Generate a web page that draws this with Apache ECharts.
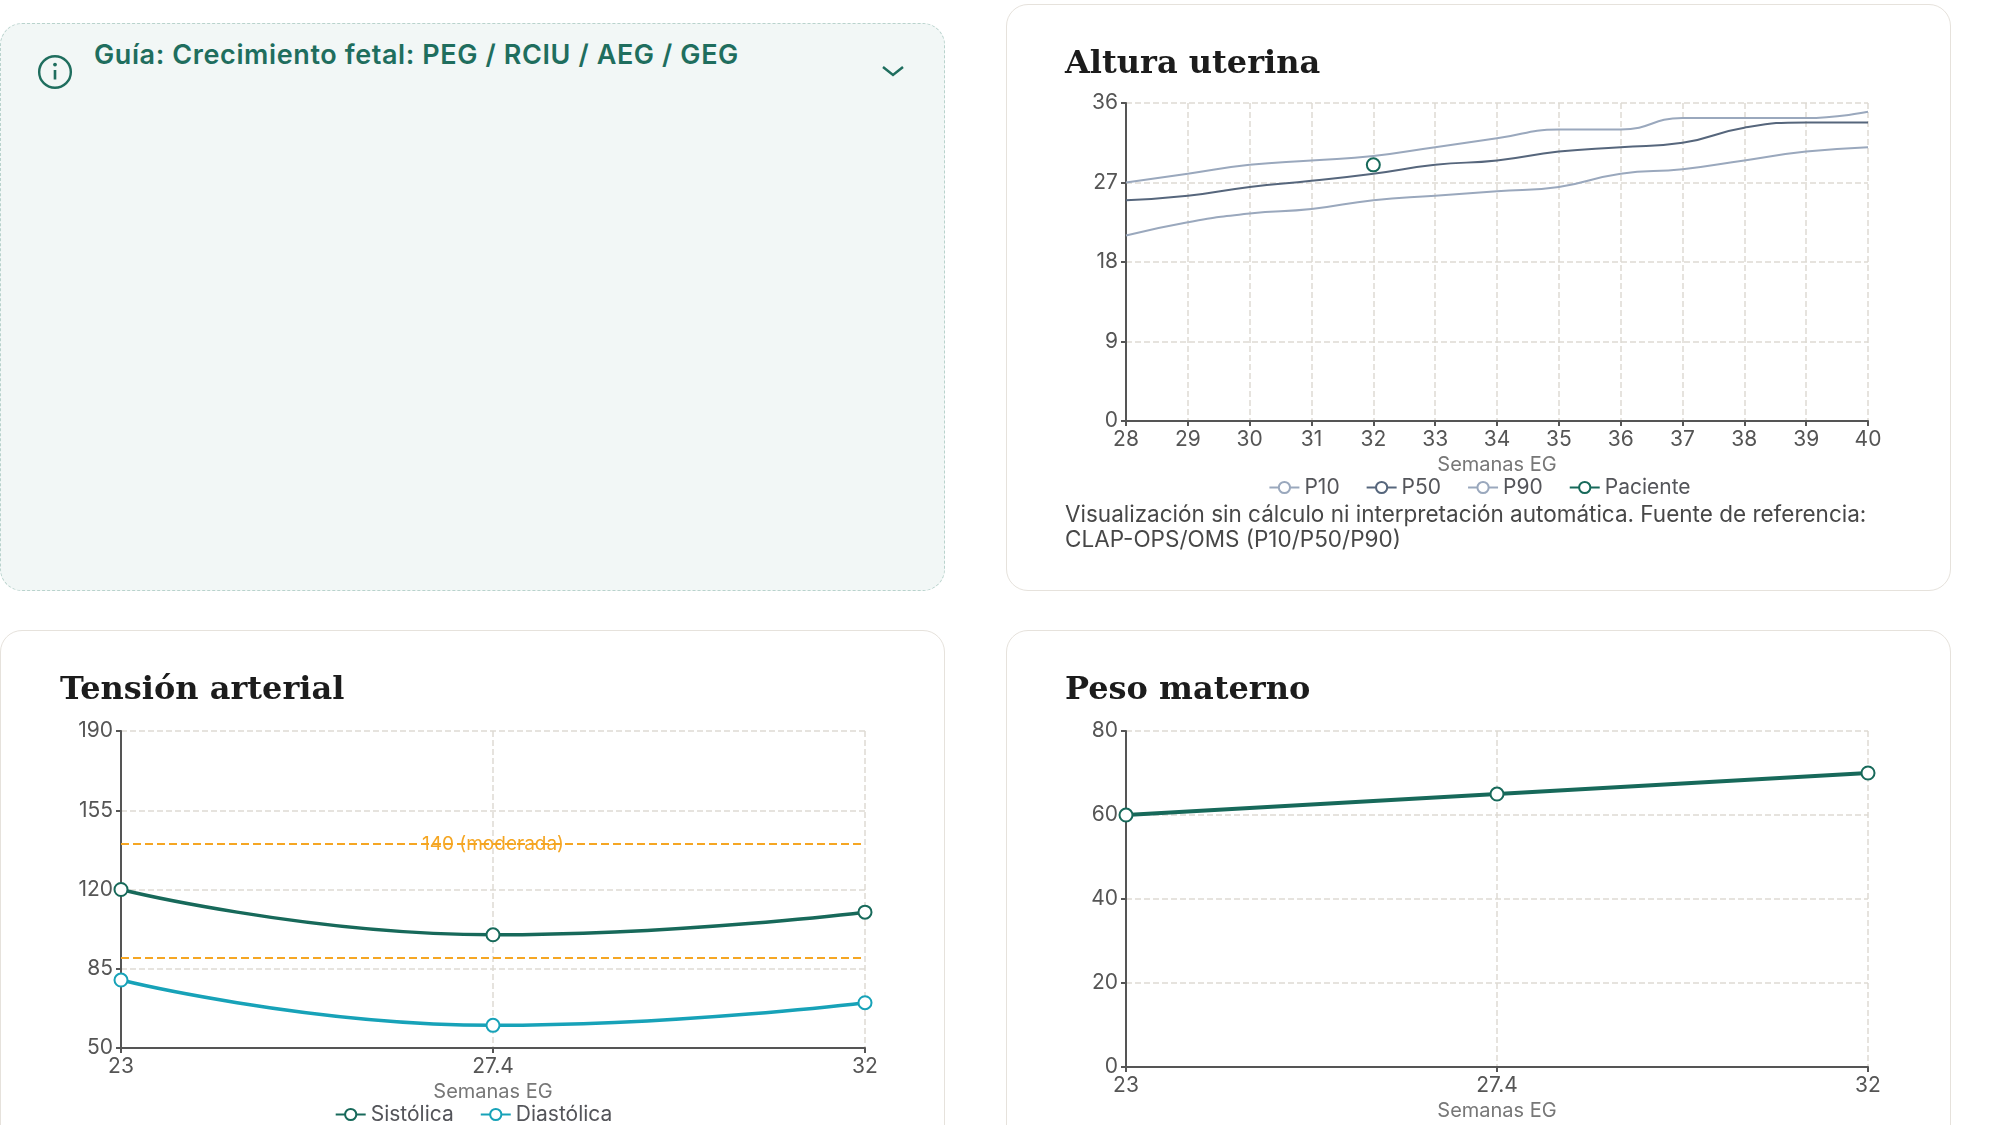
<!DOCTYPE html>
<html>
<head>
<meta charset="utf-8">
<script src="https://cdn.jsdelivr.net/npm/echarts@6/dist/echarts.min.js"></script>
<style>
  body { margin: 0; width: 2000px; height: 1125px; overflow: hidden; background: #fff; font-family: Inter, sans-serif; position: relative; }
  .card { position: absolute; background: #fff; border: 1.5px solid #e6e2dc; border-radius: 22px; box-sizing: border-box; overflow: hidden; }
  .guide { background: #f2f7f6; border: 1.5px dashed #b9d3cd; }
  .title { position: absolute; font-family: "DejaVu Serif", serif; font-weight: bold; font-size: 32px; color: #1c1c1c; z-index: 2; }
  .chart { position: absolute; left: 0; top: 0; }
  .note { position: absolute; left: 58px; top: 496px; width: 815px; font-size: 22.5px; line-height: 25px; color: #474747; }
</style>
</head>
<body>
<div class="card guide" style="left:0;top:23px;width:945px;height:568px;">
  <svg style="position:absolute;left:35px;top:29px" width="38" height="38" viewBox="0 0 36 36">
    <circle cx="18" cy="18" r="15" fill="none" stroke="#1f6e5e" stroke-width="2.3"/>
    <line x1="18" y1="16" x2="18" y2="25" stroke="#1f6e5e" stroke-width="2.5"/>
    <circle cx="18" cy="11" r="1.8" fill="#1f6e5e"/>
  </svg>
  <div style="position:absolute;left:93px;top:15px;width:720px;font-size:27px;line-height:31px;font-weight:600;color:#1f6e5e;letter-spacing:0.6px;">Guía: Crecimiento fetal: PEG / RCIU / AEG / GEG</div>
  <svg style="position:absolute;left:878px;top:38px" width="28" height="18" viewBox="0 0 28 18">
    <polyline points="4,5 14,13 24,5" fill="none" stroke="#1f6e5e" stroke-width="2.5"/>
  </svg>
</div>

<div class="card" style="left:1006px;top:4px;width:945px;height:587px;">
  <div class="title" style="left:58px;top:38px;">Altura uterina</div>
  <div id="altura" class="chart" style="width:945px;height:500px;"></div>
  <div class="note">Visualización sin cálculo ni interpretación automática. Fuente de referencia: CLAP-OPS/OMS (P10/P50/P90)</div>
</div>

<div class="card" style="left:0;top:630px;width:945px;height:530px;">
  <div class="title" style="left:59px;top:38px;">Tensión arterial</div>
  <div id="tension" class="chart" style="width:945px;height:495px;"></div>
</div>

<div class="card" style="left:1006px;top:630px;width:945px;height:530px;">
  <div class="title" style="left:58px;top:38px;">Peso materno</div>
  <div id="peso" class="chart" style="width:945px;height:495px;"></div>
</div>

<script>
// datos
var semanasAU = [28, 29, 30, 31, 32, 33, 34, 35, 36, 37, 38, 39, 40];
var p10 = [21, 22.5, 23.5, 24, 25, 25.5, 26, 26.5, 28, 28.5, 29.5, 30.5, 31];
var p50 = [25, 25.5, 26.5, 27.2, 28, 29, 29.5, 30.5, 31, 31.5, 33.2, 33.8, 33.8];
var p90 = [27, 28, 29, 29.5, 30, 31, 32, 33, 33, 34.3, 34.3, 34.3, 35];
var paciente = [[32, 29]];

var semanasTA = ['23', '27.4', '32'];
var sistolica = [120, 100, 110];
var diastolica = [80, 60, 70];
var umbrales = [140, 90];

var semanasPeso = ['23', '27.4', '32'];
var peso = [60, 65, 70];

var labelStyle = { color: '#555', fontSize: 21, fontFamily: 'Inter' };
var axisLine = { lineStyle: { color: '#555', width: 2 } };
var tick = { show: true, lineStyle: { color: '#555', width: 2 } };
var splitLine = { show: true, lineStyle: { color: '#dedad3', type: 'dashed', width: 1.5 } };
var nameStyle = { color: '#777', fontSize: 20, fontFamily: 'Inter' };
var legendText = { fontSize: 21, fontFamily: 'Inter' };

function zip(xs, ys) { return xs.map(function (x, i) { return [x, ys[i]]; }); }

var altura = echarts.init(document.getElementById('altura'));
altura.setOption({
  animation: false,
  grid: { left: 119, right: 84, top: 98, bottom: 84 },
  legend: { top: 467, left: 'center', itemGap: 26, itemWidth: 30, textStyle: legendText,
    data: ['P10', 'P50', 'P90', 'Paciente'] },
  xAxis: { type: 'value', min: 28, max: 40, interval: 1, name: 'Semanas EG', nameLocation: 'middle', nameGap: 33,
    nameTextStyle: nameStyle, axisLabel: labelStyle, axisLine: axisLine, axisTick: tick, splitLine: splitLine },
  yAxis: { type: 'value', min: 0, max: 36, interval: 9, axisLabel: labelStyle, axisLine: { show: true, lineStyle: { color: '#555', width: 2 } },
    axisTick: tick, splitLine: splitLine },
  series: [
    { name: 'P10', type: 'line', smooth: true, showSymbol: false, data: zip(semanasAU, p10), color: '#9aa8bd', lineStyle: { width: 2 } },
    { name: 'P50', type: 'line', smooth: true, showSymbol: false, data: zip(semanasAU, p50), color: '#56667c', lineStyle: { width: 2 } },
    { name: 'P90', type: 'line', smooth: true, showSymbol: false, data: zip(semanasAU, p90), color: '#9aa8bd', lineStyle: { width: 2 } },
    { name: 'Paciente', type: 'line', data: paciente, color: '#17695a', symbol: 'emptyCircle', symbolSize: 13,
      itemStyle: { borderWidth: 4 }, lineStyle: { width: 3 } }
  ]
});

var tension = echarts.init(document.getElementById('tension'));
tension.setOption({
  animation: false,
  grid: { left: 120, right: 81, top: 100, bottom: 78 },
  legend: { top: 468, left: 'center', itemGap: 26, itemWidth: 30, textStyle: legendText, data: ['Sistólica', 'Diastólica'] },
  xAxis: { type: 'category', boundaryGap: false, data: semanasTA, name: 'Semanas EG', nameLocation: 'middle', nameGap: 33,
    nameTextStyle: nameStyle, axisLabel: labelStyle, axisLine: axisLine, axisTick: tick, splitLine: splitLine },
  yAxis: { type: 'value', min: 50, max: 190, interval: 35, axisLabel: labelStyle, axisLine: { show: true, lineStyle: { color: '#555', width: 2 } },
    axisTick: tick, splitLine: splitLine },
  series: [
    { name: 'Sistólica', type: 'line', smooth: true, data: sistolica, color: '#17695a', symbol: 'emptyCircle', symbolSize: 13,
      itemStyle: { borderWidth: 3.5 }, lineStyle: { width: 3.5 },
      markLine: { symbol: 'none', silent: true, lineStyle: { color: '#f5a623', type: 'dashed', width: 2 },
        data: [
          { yAxis: umbrales[0], label: { show: true, position: 'middle', formatter: '140 (moderada)', color: '#f5a623', fontSize: 19, fontFamily: 'Inter', distance: -10 } },
          { yAxis: umbrales[1], label: { show: false } }
        ] } },
    { name: 'Diastólica', type: 'line', smooth: true, data: diastolica, color: '#17a2b8', symbol: 'emptyCircle', symbolSize: 13,
      itemStyle: { borderWidth: 3.5 }, lineStyle: { width: 3.5 } }
  ]
});

var pesoChart = echarts.init(document.getElementById('peso'));
pesoChart.setOption({
  animation: false,
  grid: { left: 119, right: 84, top: 100, bottom: 53 },
  xAxis: { type: 'category', boundaryGap: false, data: semanasPeso, name: 'Semanas EG', nameLocation: 'middle', nameGap: 33,
    nameTextStyle: nameStyle, axisLabel: labelStyle, axisLine: axisLine, axisTick: tick, splitLine: splitLine },
  yAxis: { type: 'value', min: 0, max: 80, interval: 20, axisLabel: labelStyle, axisLine: { show: true, lineStyle: { color: '#555', width: 2 } },
    axisTick: tick, splitLine: splitLine },
  series: [
    { name: 'Peso', type: 'line', data: peso, color: '#17695a', symbol: 'emptyCircle', symbolSize: 13,
      itemStyle: { borderWidth: 3.5 }, lineStyle: { width: 4 } }
  ]
});
</script>
</body>
</html>
